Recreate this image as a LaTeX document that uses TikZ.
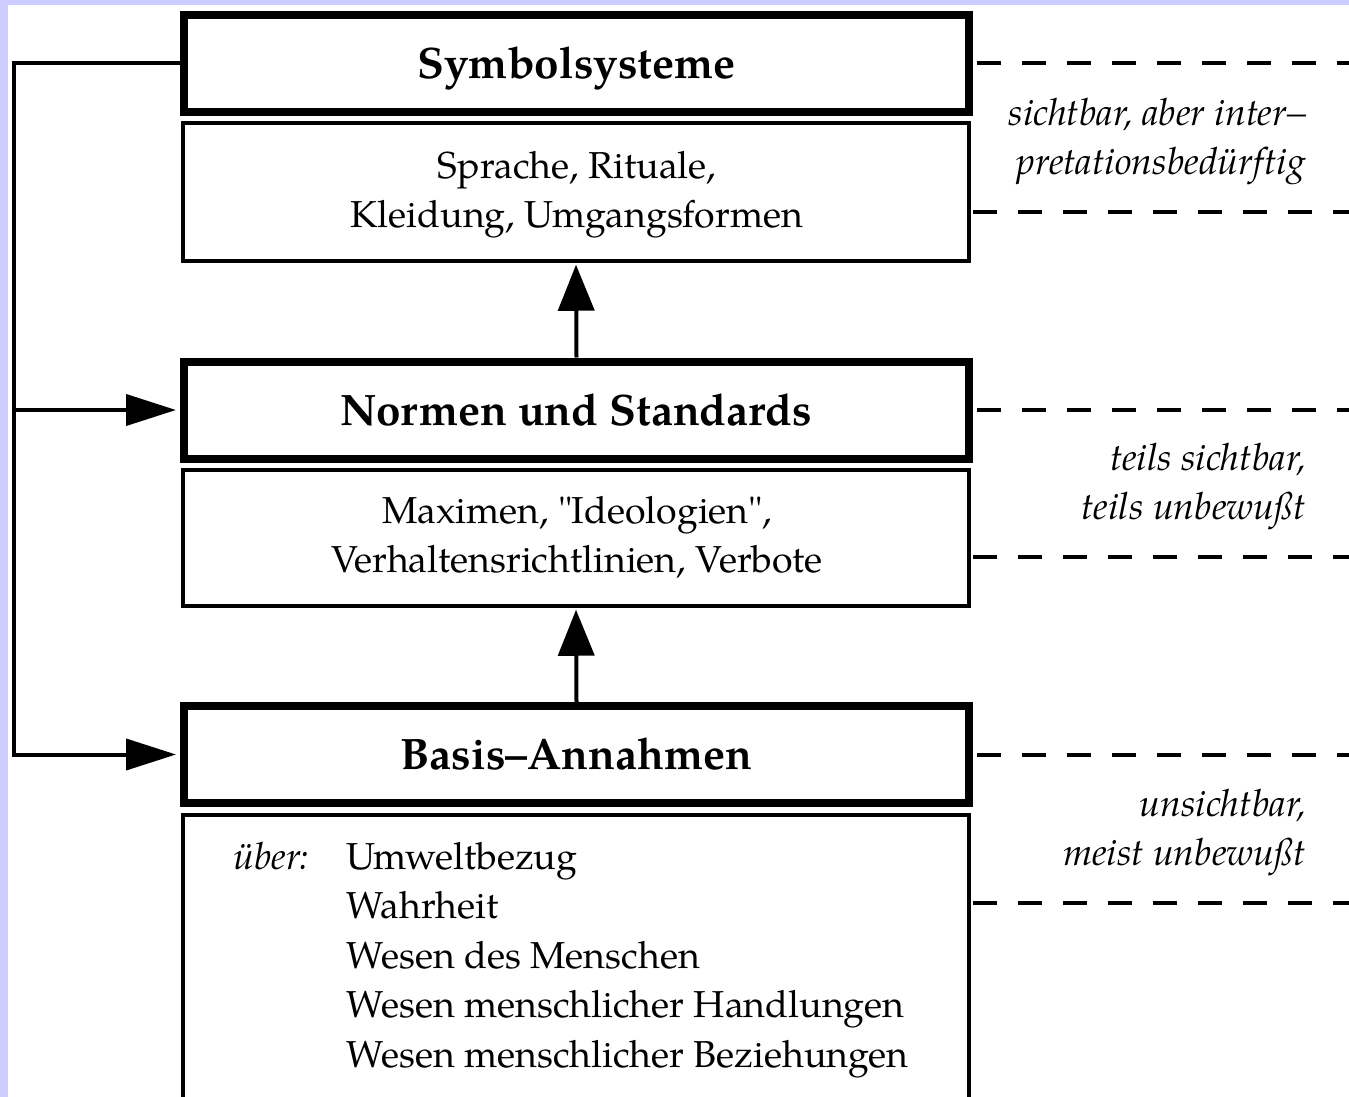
\documentclass[tikz,border=0pt]{standalone}
\usepackage{fontspec}
\setmainfont[Ligatures=TeXOff]{TeX Gyre Pagella}
\usetikzlibrary{arrows.meta}
\definecolor{bgpurple}{RGB}{204,204,255}
\begin{document}
\begin{tikzpicture}[x=1pt,y=-1pt,
  thickbox/.style={draw, line width=8pt, minimum width=785pt, minimum height=97pt, inner sep=0pt,
    text height=30pt, text depth=0pt, font=\fontsize{44}{50}\selectfont\bfseries},
  thinbox/.style={draw, line width=3.5pt, minimum width=786pt, inner sep=0pt},
  conn/.style={line width=4pt, line join=miter},
  uparrow/.style={conn, -{Triangle[length=46pt,width=36pt]}},
  sidearrow/.style={conn, -{Triangle[length=50pt,width=31pt]}},
  level/.style={line width=4pt, dash pattern=on 24pt off 21pt},
  note/.style={font=\fontsize{37.5}{44}\selectfont\itshape, anchor=base east, inner sep=0pt},
  line/.style={font=\fontsize{37.5}{44}\selectfont, anchor=base, inner sep=0pt},
  item/.style={font=\fontsize{37.5}{44}\selectfont, anchor=base west, inner sep=0pt}
]
\fill[bgpurple] (0,0) rectangle (1349,1097);
\fill[white] (8,5) rectangle (1349,1097);
\useasboundingbox (0,0) rectangle (1349,1097);
\clip (0,0) rectangle (1349,1097);
\coordinate (lx) at (14,0);
\coordinate (rx) at (1349,0);

% boxes
\node[thickbox] (b1) at (576.5,63.5) {Symbolsysteme};
\node[thinbox, minimum height=138pt] (t1) at (576,192) {};
\node[thickbox] (b2) at (576.5,410) {Normen und Standards};
\node[thinbox, minimum height=136pt] (t2) at (576,538) {};
\node[thickbox] (b3) at (576.5,754.5) {Basis–Annahmen};
\node[thinbox, minimum height=300pt] (t3) at (576,965) {};

% box contents
\node[line] (s1) at (577,178) {Sprache, Rituale,};
\node[line] (s2) at (577,227) {Kleidung, Umgangsformen};
\node[line] (m1) at (577,523) {Maximen, "Ideologien",};
\node[line] (m2) at (577,572) {Verhaltensrichtlinien, Verbote};
\node[item, font=\fontsize{37.5}{44}\selectfont\itshape] (ueber) at (233,869) {über:};
\node[item] (i1) at (346,869) {Umweltbezug};
\node[item] (i2) at (346,918.5) {Wahrheit};
\node[item] (i3) at (346,968) {Wesen des Menschen};
\node[item] (i4) at (346,1017.5) {Wesen menschlicher Handlungen};
\node[item] (i5) at (346,1067) {Wesen menschlicher Beziehungen};

% vertical arrows
\draw[uparrow] (b2.north) -- ([yshift=-2pt]t1.south);
\draw[uparrow] (b3.north) -- ([yshift=-2pt]t2.south);

% left feedback connector
\draw[sidearrow] (b1.west) -- (b1.west -| lx) -- (b3.west -| lx) -- ([xshift=-4pt]b3.west);
\draw[sidearrow] (b2.west -| lx) -- ([xshift=-4pt]b2.west);

% dashed level lines
\draw[level] ([xshift=4pt]b1.east) -- (b1.east -| rx);
\draw[level] ([xshift=2pt,yshift=-20pt]t1.east) -- ([yshift=-20pt]t1.east -| rx);
\draw[level] ([xshift=4pt]b2.east) -- (b2.east -| rx);
\draw[level] ([xshift=2pt,yshift=-19pt]t2.east) -- ([yshift=-19pt]t2.east -| rx);
\draw[level] ([xshift=4pt]b3.east) -- (b3.east -| rx);
\draw[level] ([xshift=2pt,yshift=62pt]t3.east) -- ([yshift=62pt]t3.east -| rx);

% notes
\node[note] (n1a) at (1306,125) {sichtbar, aber inter–};
\node[note] (n1b) at (1306,175) {pretationsbedürftig};
\node[note] (n2a) at (1306,470) {teils sichtbar,};
\node[note] (n2b) at (1306,519) {teils unbewußt};
\node[note] (n3a) at (1306,816) {unsichtbar,};
\node[note] (n3b) at (1306,865) {meist unbewußt};
\end{tikzpicture}
\end{document}
